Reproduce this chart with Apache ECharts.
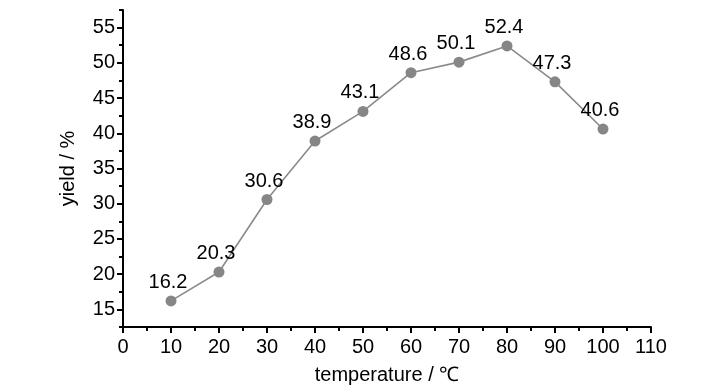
<!DOCTYPE html>
<html><head><meta charset="utf-8">
<script src="https://cdn.jsdelivr.net/npm/echarts@6/dist/echarts.min.js"></script>
<style>html,body{margin:0;padding:0;background:#fff}#c{width:728px;height:390px}</style>
</head><body><div id="c"></div>
<script>
const temperatures = [10, 20, 30, 40, 50, 60, 70, 80, 90, 100];
const yields = [16.2, 20.3, 30.6, 38.9, 43.1, 48.6, 50.1, 52.4, 47.3, 40.6];
const yMajorTicks = [15, 20, 25, 30, 35, 40, 45, 50, 55];
const yMinorTicks = [12.5, 17.5, 22.5, 27.5, 32.5, 37.5, 42.5, 47.5, 52.5, 57.5];

const font = '"Liberation Sans", Arial, sans-serif';
const chart = echarts.init(document.getElementById('c'));
chart.setOption({
  animation: false,
  grid: {left: 123, right: 77, top: 10, bottom: 63, containLabel: false},
  xAxis: {
    type: 'value', min: 0, max: 110, interval: 10,
    name: 'temperature / ℃', nameLocation: 'middle', nameGap: 38,
    nameTextStyle: {color: '#000', fontSize: 20, fontFamily: font},
    axisLine: {show: true, lineStyle: {color: '#000', width: 2}},
    axisTick: {show: true, inside: false, length: 6, lineStyle: {color: '#000', width: 2}},
    minorTick: {show: true, splitNumber: 2, length: 4, lineStyle: {color: '#000', width: 2}},
    axisLabel: {color: '#000', fontSize: 20, fontFamily: font, margin: 10},
    splitLine: {show: false}
  },
  yAxis: [{
    type: 'value', min: 12.5, max: 57.5,
    name: 'yield / %', nameLocation: 'middle', nameGap: 45,
    nameTextStyle: {color: '#000', fontSize: 20, fontFamily: font},
    axisLine: {show: true, lineStyle: {color: '#000', width: 2}},
    axisTick: {show: true, length: 6, customValues: yMajorTicks, lineStyle: {color: '#000', width: 2}},
    axisLabel: {color: '#000', fontSize: 20, fontFamily: font, margin: 8, customValues: yMajorTicks},
    splitLine: {show: false}
  }, {
    type: 'value', min: 12.5, max: 57.5, position: 'left',
    axisLine: {show: false},
    axisTick: {show: true, length: 4, customValues: yMinorTicks, lineStyle: {color: '#000', width: 2}},
    axisLabel: {show: false},
    splitLine: {show: false}
  }],
  series: [{
    type: 'line',
    data: temperatures.map((t, i) => [t, yields[i]]),
    symbol: 'circle', symbolSize: 11,
    itemStyle: {color: '#868686'},
    lineStyle: {color: '#8a8a8a', width: 1.6},
    label: {show: true, position: 'top', distance: 3, offset: [-3, 0], color: '#000', fontSize: 20, fontFamily: font,
      formatter: p => p.value[1].toFixed(1)}
  }]
});
</script></body></html>
